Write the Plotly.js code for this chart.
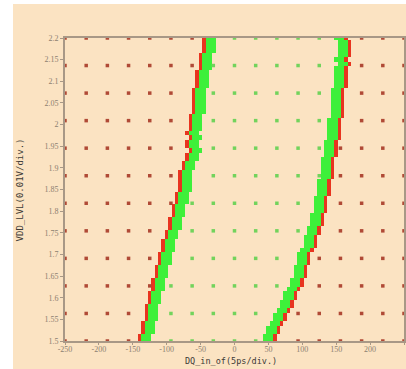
<!DOCTYPE html>
<html>
<head>
<meta charset="utf-8">
<script src="https://cdn.plot.ly/plotly-3.0.1.min.js"></script>
<style>
  html, body { margin: 0; padding: 0; background: #ffffff; width: 406px; height: 369px; overflow: hidden; }
  #chart { position: absolute; left: 13px; top: 4px; width: 393px; height: 365px; }
</style>
</head>
<body>
<div id="chart"></div>
<script>
// Supply voltage rows of the fine shmoo (V), top to bottom
const vddRows = [2.20, 2.19, 2.18, 2.17, 2.16, 2.15, 2.14, 2.13, 2.12, 2.11,
                 2.10, 2.09, 2.08, 2.07, 2.06, 2.05, 2.04, 2.03, 2.02, 2.01,
                 2.00, 1.99, 1.98, 1.97, 1.96, 1.95, 1.94, 1.93, 1.92, 1.91,
                 1.90, 1.89, 1.88, 1.87, 1.86, 1.85, 1.84, 1.83, 1.82, 1.81,
                 1.80, 1.79, 1.78, 1.77, 1.76, 1.75, 1.74, 1.73, 1.72, 1.71,
                 1.70, 1.69, 1.68, 1.67, 1.66, 1.65, 1.64, 1.63, 1.62, 1.61,
                 1.60, 1.59, 1.58, 1.57, 1.56, 1.55, 1.54, 1.53, 1.52, 1.51,
                 1.50];

// First passing DQ offset (ps) on the left edge of the eye, per row
const leftEdge = [-40, -40, -40, -40, -45, -45, -45, -45, -50, -50,
                  -50, -50, -55, -55, -55, -55, -55, -55, -60, -60,
                  -60, -60, -65, -60, -65, -65, -60, -65, -65, -70,
                  -70, -75, -75, -75, -75, -75, -80, -80, -80, -85,
                  -85, -85, -90, -90, -90, -95, -95, -100, -100, -100,
                  -105, -105, -105, -110, -110, -110, -115, -115, -115, -120,
                  -120, -120, -125, -125, -125, -125, -130, -130, -130, -135,
                  -135];

// Last passing DQ offset (ps) on the right edge of the eye, per row
const rightEdge = [160, 165, 165, 165, 165, 160, 165, 160, 160, 160,
                   160, 160, 155, 155, 155, 155, 155, 155, 155, 150,
                   150, 150, 150, 150, 145, 145, 145, 145, 140, 140,
                   140, 140, 140, 135, 135, 135, 135, 130, 130, 130,
                   130, 125, 125, 125, 120, 120, 115, 115, 115, 110,
                   105, 105, 105, 100, 100, 100, 95, 95, 90, 85,
                   85, 80, 80, 75, 70, 70, 65, 60, 60, 55,
                   55];

// Coarse sample grid shown as dots
const coarseX = [-250, -218.75, -187.5, -156.25, -125, -93.75, -62.5, -31.25, 0,
                 31.25, 62.5, 93.75, 125, 156.25, 187.5, 218.75, 250];
const coarseY = [1.5, 1.5636, 1.6273, 1.6909, 1.7545, 1.8182, 1.8818, 1.9455,
                 2.0091, 2.0727, 2.1364, 2.2];

// Axis ticks
const xTickVals = [-250, -200, -150, -100, -50, 0, 50, 100, 150, 200, 250];
const xTickText = ['-250', '-200', '-150', '-100', '-50', '0', '50', '100', '150', '200', '250'];
const yTickVals = [1.5, 1.55, 1.6, 1.65, 1.7, 1.75, 1.8, 1.85, 1.9, 1.95, 2, 2.05, 2.1, 2.15, 2.2];
const yTickText = ['1.5', '1.55', '1.6', '1.65', '1.7', '1.75', '1.8', '1.85', '1.9', '1.95', '2', '2.05', '2.1', '2.15', '2.2'];

const STEP = 5;          // ps per fine column
const X_MIN = -250, X_MAX = 250;
const GREEN_CELLS = 3;   // passing cells drawn inside each edge

// Fine grid columns
const fineX = [];
for (let x = X_MIN; x <= X_MAX; x += STEP) fineX.push(x);
const colOf = x => Math.round((x - X_MIN) / STEP);

// Edge cells: 0 = fail (red), 1 = pass (green), null = not drawn
const z = vddRows.map((v, i) => {
  const row = fineX.map(() => null);
  const put = (x, val) => { const c = colOf(x); if (c >= 0 && c < row.length) row[c] = val; };
  const l = leftEdge[i], r = rightEdge[i];
  put(l - STEP, 0);
  for (let k = 0; k < GREEN_CELLS; k++) put(l + k * STEP, 1);
  for (let k = 0; k < GREEN_CELLS; k++) put(r - k * STEP, 1);
  put(r + STEP, 0);
  return row;
});

// Coarse dots: colour by pass/fail of the nearest fine row, skip those under edge cells
const failX = [], failY = [], passX = [], passY = [];
coarseY.forEach(cy => {
  let best = 0;
  vddRows.forEach((v, i) => { if (Math.abs(v - cy) < Math.abs(vddRows[best] - cy)) best = i; });
  const l = leftEdge[best], r = rightEdge[best];
  coarseX.forEach(cx => {
    const half = STEP / 2;
    const underLeft = cx >= l - STEP - half && cx <= l + (GREEN_CELLS - 1) * STEP + half;
    const underRight = cx >= r - (GREEN_CELLS - 1) * STEP - half && cx <= r + STEP + half;
    if (underLeft || underRight) return;
    if (cx > l && cx < r) { passX.push(cx); passY.push(cy); }
    else { failX.push(cx); failY.push(cy); }
  });
});

const RED_CELL = '#e8341f', GREEN_CELL = '#3ef03a';
const traces = [
  {
    type: 'heatmap', x: fineX, y: vddRows, z: z,
    zmin: 0, zmax: 1, showscale: false, hoverinfo: 'skip',
    colorscale: [[0, RED_CELL], [0.5, RED_CELL], [0.5, GREEN_CELL], [1, GREEN_CELL]]
  },
  {
    type: 'scatter', mode: 'markers', x: failX, y: failY, cliponaxis: false, hoverinfo: 'skip',
    marker: { symbol: 'square', size: 3.5, color: '#b04a36' }
  },
  {
    type: 'scatter', mode: 'markers', x: passX, y: passY, cliponaxis: false, hoverinfo: 'skip',
    marker: { symbol: 'square', size: 3.5, color: '#72d35c' }
  }
];

const AXIS_COLOR = '#a89886';
const tickFont = { family: 'Liberation Serif, serif', size: 8, color: '#8c7f70' };

const layout = {
  width: 393, height: 365,
  margin: { l: 52, r: 2, t: 34, b: 28, pad: 0 },
  paper_bgcolor: '#fbe3c2',
  plot_bgcolor: '#fbe3c2',
  showlegend: false,
  xaxis: {
    range: [X_MIN, X_MAX], tickvals: xTickVals, ticktext: xTickText,
    showgrid: false, zeroline: false,
    showline: true, mirror: true, linecolor: AXIS_COLOR, linewidth: 2,
    ticks: 'outside', ticklen: 2, tickcolor: AXIS_COLOR, tickfont: tickFont,
    ticklabelstandoff: -3
  },
  yaxis: {
    range: [1.5, 2.2], tickvals: yTickVals, ticktext: yTickText,
    showgrid: false, zeroline: false,
    showline: true, mirror: true, linecolor: AXIS_COLOR, linewidth: 2,
    ticks: 'outside', ticklen: 3, tickcolor: AXIS_COLOR, tickfont: tickFont
  },
  annotations: [
    {
      text: 'DQ_in_of(5ps/div.)', xref: 'paper', yref: 'paper',
      x: 0.49, y: -0.066, xanchor: 'center', yanchor: 'middle', showarrow: false,
      font: { family: 'DejaVu Sans Mono, monospace', size: 8.5, color: '#3c3a36' }
    },
    {
      text: 'VDD_LVL(0.01V/div.)', xref: 'paper', yref: 'paper',
      x: -0.133, y: 0.5, xanchor: 'center', yanchor: 'middle', textangle: -90, showarrow: false,
      font: { family: 'DejaVu Sans Mono, monospace', size: 9, color: '#3c3a36' }
    }
  ]
};

Plotly.newPlot('chart', traces, layout, { staticPlot: true, displayModeBar: false });
</script>
</body>
</html>
